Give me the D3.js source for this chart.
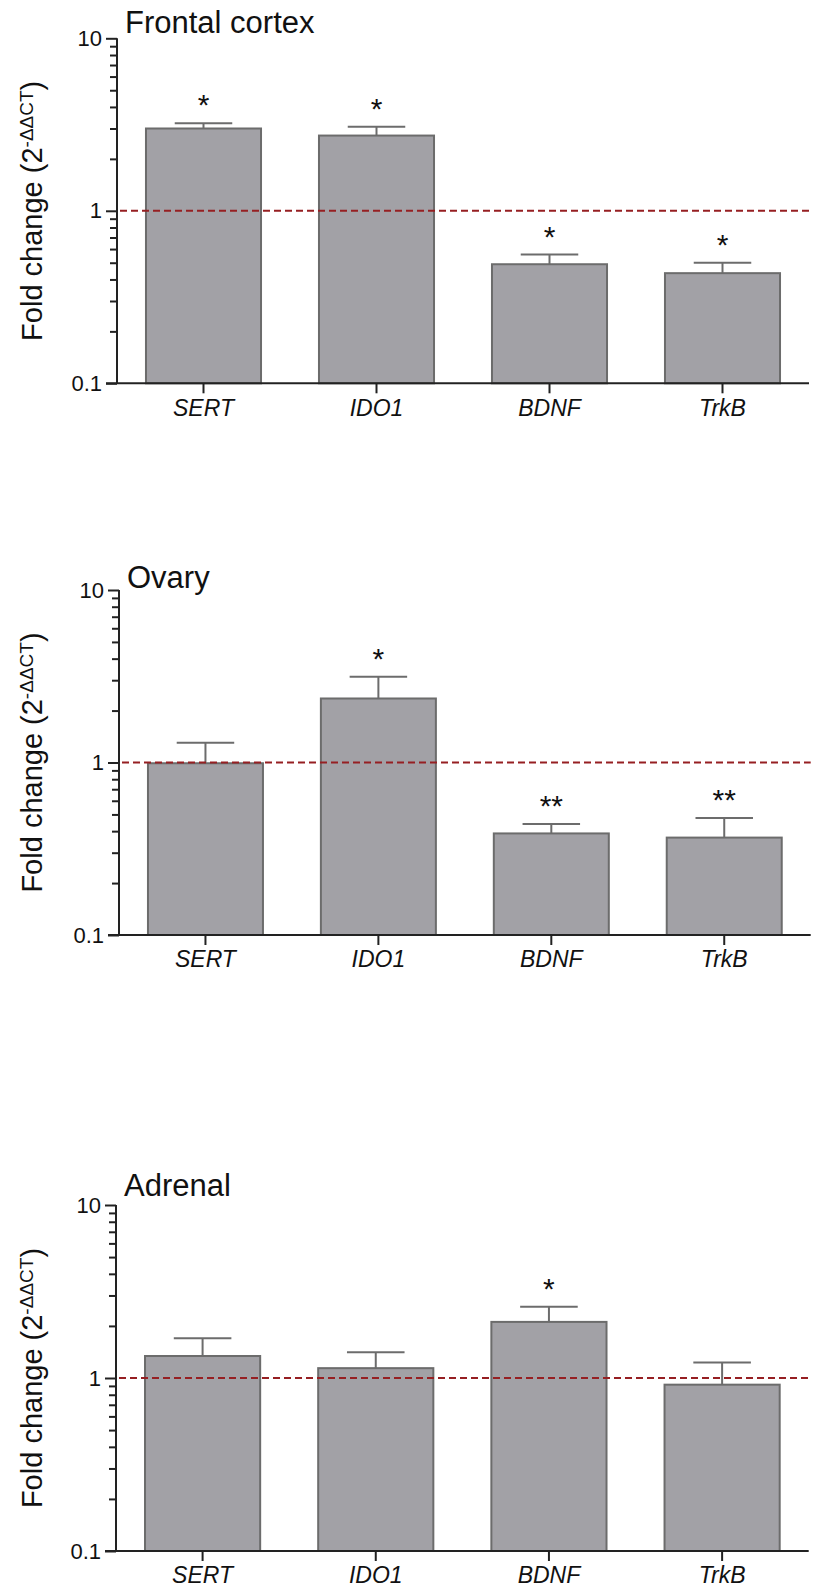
<!DOCTYPE html>
<html>
<head>
<meta charset="utf-8">
<script src="https://cdn.jsdelivr.net/npm/d3@7"></script>
<style>
  body { margin: 0; background: #fff; }
  svg text { font-family: Arial, "Liberation Sans", sans-serif; fill: #111; }
</style>
</head>
<body>
<script>
// genes on the x axis
let genes = ["SERT", "IDO1", "BDNF", "TrkB"];
let tissues = ["Frontal cortex", "Ovary", "Adrenal"];

// fold change means and SEM
let frontalMean = [3.0, 2.73, 0.49, 0.435];
let frontalSem  = [0.22, 0.34, 0.068, 0.065];
let ovaryMean   = [0.99, 2.35, 0.388, 0.367];
let ovarySem    = [0.31, 0.79, 0.052, 0.109];
let adrenalMean = [1.34, 1.14, 2.11, 0.915];
let adrenalSem  = [0.36, 0.27, 0.47, 0.315];

// significance marks
let frontalStars = ["*", "*", "*", "*"];
let ovaryStars   = ["", "*", "**", "**"];
let adrenalStars = ["", "", "*", ""];

let majorTicks = [0.1, 1, 10];
let minorTicks = [0.2, 0.3, 0.4, 0.5, 0.6, 0.7, 0.8, 0.9, 2, 3, 4, 5, 6, 7, 8, 9];

let means = [frontalMean, ovaryMean, adrenalMean];
let sems = [frontalSem, ovarySem, adrenalSem];
let stars = [frontalStars, ovaryStars, adrenalStars];

// panel placement on the page
let panels = [
  {top: 38.3, bottom: 383.3, left: 117, right: 809, titleY: 33},
  {top: 590, bottom: 935, left: 119, right: 810.7, titleY: 588},
  {top: 1205, bottom: 1551, left: 116, right: 808.7, titleY: 1196}
];

let width = 818, height = 1589;
let barFill = "#a2a1a6", barStroke = "#6c6c6c", axisColor = "#222";
let font = "Arial, 'Liberation Sans', sans-serif";

let svg = d3.select("body").append("svg")
  .attr("width", width)
  .attr("height", height);

panels.forEach(function(p, k) {
  let data = genes.map((g, i) => ({gene: g, mean: means[k][i], sem: sems[k][i], star: stars[k][i]}));

  let x = d3.scaleBand()
    .domain(genes)
    .range([p.left, p.right])
    .paddingInner(0.335)
    .paddingOuter(0.1675);

  let y = d3.scaleLog()
    .domain([0.1, 10])
    .range([p.bottom, p.top]);

  let g = svg.append("g");

  // bars
  g.selectAll(".bar")
    .data(data)
    .enter().append("rect")
      .attr("class", "bar")
      .attr("x", d => x(d.gene))
      .attr("y", d => y(d.mean))
      .attr("width", x.bandwidth())
      .attr("height", d => y(0.1) - y(d.mean))
      .attr("fill", barFill)
      .attr("stroke", barStroke)
      .attr("stroke-width", 2);

  // error bars (upper only)
  let cx = d => x(d.gene) + x.bandwidth() / 2;
  g.selectAll(".err")
    .data(data)
    .enter().append("line")
      .attr("x1", cx).attr("x2", cx)
      .attr("y1", d => y(d.mean))
      .attr("y2", d => y(d.mean + d.sem))
      .attr("stroke", barStroke)
      .attr("stroke-width", 2);
  g.selectAll(".cap")
    .data(data)
    .enter().append("line")
      .attr("x1", d => cx(d) - x.bandwidth() / 4)
      .attr("x2", d => cx(d) + x.bandwidth() / 4)
      .attr("y1", d => y(d.mean + d.sem))
      .attr("y2", d => y(d.mean + d.sem))
      .attr("stroke", barStroke)
      .attr("stroke-width", 2);

  // stars
  g.selectAll(".star")
    .data(data.filter(d => d.star))
    .enter().append("text")
      .attr("x", cx)
      .attr("y", d => y(d.mean + d.sem) - 8)
      .attr("text-anchor", "middle")
      .attr("font-size", 30)
      .attr("fill", "#111")
      .text(d => d.star);

  // reference line at 1
  g.append("line")
    .attr("x1", p.left + 3)
    .attr("x2", p.right)
    .attr("y1", y(1))
    .attr("y2", y(1))
    .attr("stroke", "#961f22")
    .attr("stroke-width", 2)
    .attr("stroke-dasharray", "7,4");

  // y axis
  let yAxis = g.append("g")
    .attr("transform", `translate(${p.left},0)`)
    .call(d3.axisLeft(y).tickValues(majorTicks).tickSize(11).tickPadding(4).tickFormat(d3.format("")));
  yAxis.selectAll("text").attr("font-size", 22).style("font-family", font).attr("fill", "#111");
  yAxis.selectAll("line, path").attr("stroke", axisColor).attr("stroke-width", 2);
  yAxis.select(".domain").attr("d", `M0,${p.top}V${p.bottom}`);

  let yMinor = g.append("g")
    .attr("transform", `translate(${p.left},0)`)
    .call(d3.axisLeft(y).tickValues(minorTicks).tickSize(7).tickFormat(""));
  yMinor.select(".domain").remove();
  yMinor.selectAll("line").attr("stroke", axisColor).attr("stroke-width", 2);

  // x axis
  let xAxis = g.append("g")
    .attr("transform", `translate(0,${p.bottom})`)
    .call(d3.axisBottom(x).tickSize(10).tickPadding(6).tickSizeOuter(0));
  xAxis.selectAll("text")
    .attr("font-size", 23)
    .attr("font-style", "italic")
    .style("font-family", font)
    .attr("fill", "#111");
  xAxis.selectAll("line, path").attr("stroke", axisColor).attr("stroke-width", 2);
  xAxis.select(".domain").attr("d", `M${p.left - 11},0H${p.right}`);

  // title
  g.append("text")
    .attr("x", p.left + 8)
    .attr("y", p.titleY)
    .attr("font-size", 31)
    .text(tissues[k]);

  // y label
  let lab = g.append("text")
    .attr("transform", `translate(42,${(p.top + p.bottom) / 2}) rotate(-90)`)
    .attr("text-anchor", "middle")
    .attr("font-size", 29);
  lab.append("tspan").text("Fold change (2");
  lab.append("tspan").attr("font-size", 19).attr("dy", -9).text("-ΔΔCT");
  lab.append("tspan").attr("dy", 9).text(")");
});
</script>
</body>
</html>
